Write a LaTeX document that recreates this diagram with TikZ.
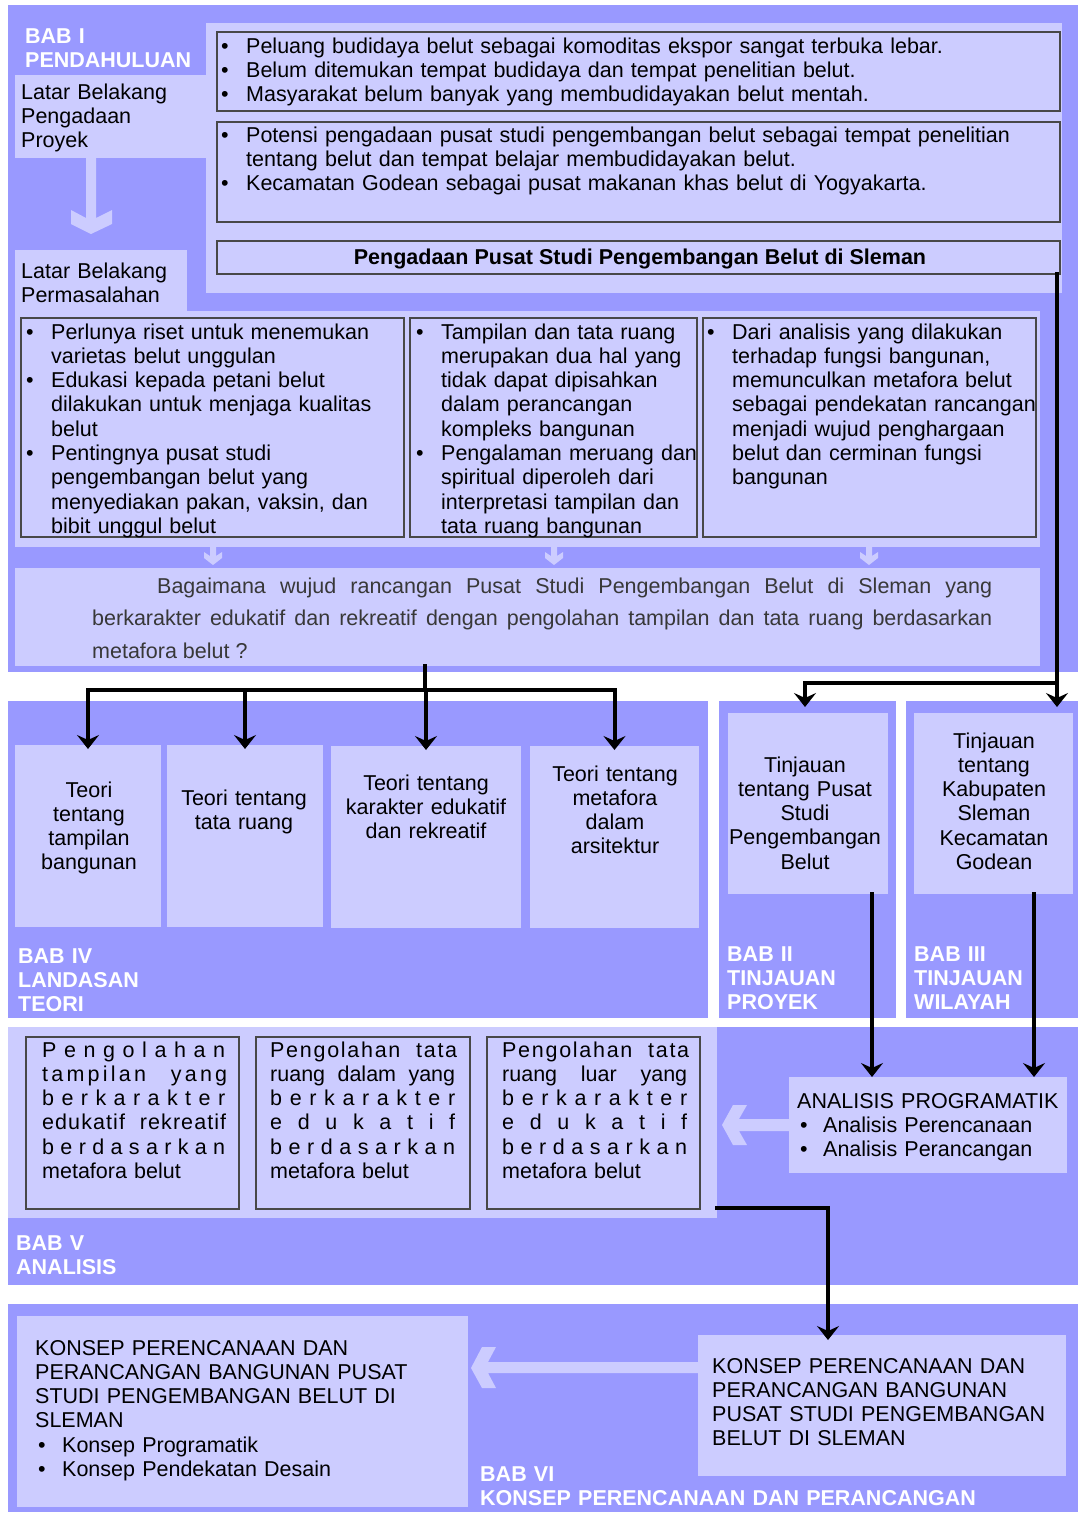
\documentclass[tikz,border=0pt]{standalone}
\usepackage{fontspec}
\setmainfont{Liberation Sans}
\usetikzlibrary{arrows.meta}
\definecolor{panel}{HTML}{9999FF}
\definecolor{pale}{HTML}{CCCCFF}
\definecolor{edge}{HTML}{484848}
\definecolor{qtext}{HTML}{383838}
\ExplSyntaxOn
\NewDocumentCommand\spreadw{mm}{\makebox[#1][s]{\tl_map_inline:nn{#2}{##1\hfil}\unskip}}
\ExplSyntaxOff
\newcommand\bul[1]{\noindent\hangindent=25pt\hangafter=1\makebox[25pt][l]{\textbullet}#1}
\newcommand\lsp[3]{\makebox[#1][l]{\addfontfeature{LetterSpace=#2}#3}}
\newcommand\rect[6]{\node[#2,anchor=north west,inner sep=0pt,outer sep=0pt,minimum width={(#5-#3)*1pt},minimum height={(#6-#4)*1pt}] (#1) at (#3,#4) {};}
\begin{document}
\begin{tikzpicture}[x=1pt,y=-1pt,
  panelbox/.style={fill=panel,draw=none},
  palebox/.style={fill=pale,draw=none},
  framebox/.style={fill=pale,draw=edge,line width=1.2pt},
  txt/.style={font=\fontsize{21.5}{24.3}\selectfont,inner sep=0pt,anchor=base west,align=left},
  ctxt/.style={txt,anchor=base,align=center},
  lbl/.style={txt,text=white,font=\fontsize{21.5}{24.3}\selectfont\bfseries,text width=520pt},
  conn/.style={line width=4pt,draw=black,line cap=rect,line join=miter},
  arr/.style={conn,-{Stealth[length=14pt,width=22pt,inset=5pt]}},
  blk/.style={fill=pale,draw=none}]
\useasboundingbox (0,0) rectangle (1080,1515);
\fill[white] (0,0) rectangle (1080,1515);

% ---------- BAB I panel ----------
\rect{pA}{panelbox}{8}{5}{1078}{672}
\rect{lbp}{palebox}{15}{75}{206}{158}
\rect{pr}{palebox}{206}{23}{1062}{293}
\rect{k1}{framebox}{217}{32}{1060}{111}
\rect{k2}{framebox}{217}{122}{1060}{222}
\rect{tt}{framebox}{217}{241}{1060}{274}
\rect{lbm}{palebox}{15}{250}{187}{312}
\rect{cr}{palebox}{15}{311}{1040}{547}
\rect{c1}{framebox}{21}{318}{404}{537}
\rect{c2}{framebox}{410}{318}{697}{537}
\rect{c3}{framebox}{703}{318}{1036}{537}
\rect{q}{palebox}{15}{568}{1040}{666}

% ---------- BAB IV ----------
\rect{pB}{panelbox}{8}{701}{708}{1018}
\rect{t1}{palebox}{15}{745}{161}{927}
\rect{t2}{palebox}{167}{745}{323}{927}
\rect{t3}{palebox}{331}{746}{521}{928}
\rect{t4}{palebox}{530}{746}{699}{928}
% ---------- BAB II / III ----------
\rect{pC}{panelbox}{719}{701}{896}{1018}
\rect{b2}{palebox}{728}{713}{888}{894}
\rect{pD}{panelbox}{906}{701}{1078}{1018}
\rect{b3}{palebox}{914}{713}{1073}{894}
% ---------- BAB V ----------
\rect{pE}{panelbox}{8}{1027}{1078}{1285}
\rect{ar}{palebox}{8}{1027}{717}{1218}
\rect{a1}{framebox}{26}{1037}{239}{1209}
\rect{a2}{framebox}{256}{1037}{470}{1209}
\rect{a3}{framebox}{487}{1037}{700}{1209}
\rect{an}{palebox}{789}{1077}{1067}{1173}
% ---------- BAB VI ----------
\rect{pF}{panelbox}{8}{1304}{1078}{1512}
\rect{kl}{palebox}{17}{1316}{468}{1507}
\rect{kr}{palebox}{698}{1335}{1066}{1476}

% ---------- light block arrows ----------
\fill[blk] (86,158) -- (86,218) -- (71,210) -- (71,224) -- (91,234) -- (112,224) -- (112,210) -- (96,218) -- (96,158) -- cycle;
\foreach \cx in {213,554,869}
  \fill[blk] (\cx-3,547) -- (\cx-3,556) -- (\cx-9,552) -- (\cx-9,558) -- (\cx,565) -- (\cx+9,558) -- (\cx+9,552) -- (\cx+3,556) -- (\cx+3,547) -- cycle;
\fill[blk] (789,1119) -- (739,1119) -- (747,1105) -- (733,1105) -- (722,1125) -- (733,1145) -- (747,1145) -- (739,1131) -- (789,1131) -- cycle;
\fill[blk] (698,1362) -- (488,1362) -- (496,1347) -- (482,1347) -- (471,1368) -- (482,1388) -- (496,1388) -- (488,1373) -- (698,1373) -- cycle;

% ---------- black connectors ----------
\coordinate (jR) at (1057,683);
\coordinate (jL) at (805,683);
\coordinate (eR) at (1057,707);
\coordinate (eL) at (805,707);
\draw[conn] (jR |- tt.south) -- (jR) -- (jL);
\draw[arr] (jL) -- (eL);
\draw[arr] (jR) -- (eR);

\coordinate (qd) at (425,690);
\draw[conn] (qd |- q.south) -- (qd);
\draw[conn] (t1.north |- qd) -- (t4.north |- qd);
\foreach \t in {t1,t2,t3,t4}
  \draw[arr] (\t.north |- qd) -- ([yshift=-4pt]\t.north);

\coordinate (s2) at (872,894);
\coordinate (s3) at (1034,894);
\draw[arr] (s2) -- (s2 |- an.north);
\draw[arr] (s3) -- (s3 |- an.north);

\coordinate (v1) at (828,1208);
\coordinate (v2) at (828,1340);
\draw[arr] (ar.east |- v1) -- (v1) -- (v2);

% ---------- texts ----------
\node[lbl] (l1) at (25,43) {BAB I\\PENDAHULUAN};
\node[txt,text width=185pt] (lbpt) at (21,99) {Latar Belakang\\Pengadaan\\Proyek};
\node[txt,text width=840pt] (k1t) at (221,53) {\bul{Peluang budidaya belut sebagai komoditas ekspor sangat terbuka lebar.}\par\bul{Belum ditemukan tempat budidaya dan tempat penelitian belut.}\par\bul{Masyarakat belum banyak yang membudidayakan belut mentah.}\par};
\node[txt,text width=840pt] (k2t) at (221,142) {\bul{Potensi pengadaan pusat studi pengembangan belut sebagai tempat penelitian\newline tentang belut dan tempat belajar membudidayakan belut.}\par\bul{Kecamatan Godean sebagai pusat makanan khas belut di Yogyakarta.}\par};
\node[ctxt,font=\fontsize{21.5}{24.3}\selectfont\bfseries] (ttt) at (640,264) {Pengadaan Pusat Studi Pengembangan Belut di Sleman};
\node[txt,text width=170pt] (lbmt) at (21,278) {Latar Belakang\\Permasalahan};

\node[txt,text width=380pt] (c1t) at (26,339) {\bul{Perlunya riset untuk menemukan\newline varietas belut unggulan}\par\bul{Edukasi kepada petani belut\newline dilakukan untuk menjaga kualitas\newline belut}\par\bul{Pentingnya pusat studi\newline pengembangan belut yang\newline menyediakan pakan, vaksin, dan\newline bibit unggul belut}\par};
\node[txt,text width=300pt] (c2t) at (416,339) {\bul{Tampilan dan tata ruang\newline merupakan dua hal yang\newline tidak dapat dipisahkan\newline dalam perancangan\newline kompleks bangunan}\par\bul{Pengalaman meruang dan\newline spiritual diperoleh dari\newline interpretasi tampilan dan\newline tata ruang bangunan}\par};
\node[txt,text width=340pt] (c3t) at (707,339) {\bul{Dari analisis yang dilakukan\newline terhadap fungsi bangunan,\newline memunculkan metafora belut\newline sebagai pendekatan rancangan\newline menjadi wujud penghargaan\newline belut dan cerminan fungsi\newline bangunan}\par};

\node[txt,text width=900pt,align=justify,text=qtext,font=\fontsize{21.5}{32.5}\selectfont] (qt) at (92,593) {\hspace*{65pt}Bagaimana wujud rancangan Pusat Studi Pengembangan Belut di Sleman yang\linebreak berkarakter edukatif dan rekreatif dengan pengolahan tampilan dan tata ruang berdasarkan\linebreak metafora belut ?};

\node[ctxt,text width=145pt] (t1t) at (89,797) {Teori\\tentang\\tampilan\\bangunan};
\node[ctxt,text width=155pt] (t2t) at (244,805) {Teori tentang\\tata ruang};
\node[ctxt,text width=190pt] (t3t) at (426,790) {Teori tentang\\karakter edukatif\\dan rekreatif};
\node[ctxt,text width=170pt] (t4t) at (615,781) {Teori tentang\\metafora\\dalam\\arsitektur};
\node[lbl] (l4) at (18,963) {BAB IV\\LANDASAN\\TEORI};

\node[ctxt,text width=165pt] (b2t) at (805,772) {Tinjauan\\tentang Pusat\\Studi\\Pengembangan\\Belut};
\node[ctxt,text width=160pt] (b3t) at (994,748) {Tinjauan\\tentang\\Kabupaten\\Sleman\\Kecamatan\\Godean};
\node[lbl] (l2) at (727,961) {BAB II\\TINJAUAN\\PROYEK};
\node[lbl] (l3) at (914,961) {BAB III\\TINJAUAN\\WILAYAH};

\node[txt,text width=200pt] (a1t) at (42,1057) {\spreadw{183pt}{Pengolahan}\\\lsp{185pt}{15}{tampilan\hfill yang}\\\spreadw{183pt}{berkarakter}\\\lsp{184pt}{5}{edukatif\hfill rekreatif}\\\spreadw{183pt}{berdasarkan}\\metafora belut};
\node[txt,text width=200pt] (a2t) at (270,1057) {\lsp{187pt}{8}{Pengolahan\hfill tata}\\\makebox[185pt][l]{ruang\hfill dalam\hfill yang}\\\spreadw{185pt}{berkarakter}\\\spreadw{185pt}{edukatif}\\\spreadw{185pt}{berdasarkan}\\metafora belut};
\node[txt,text width=200pt] (a3t) at (502,1057) {\lsp{187pt}{8}{Pengolahan\hfill tata}\\\makebox[185pt][l]{ruang\hfill luar\hfill yang}\\\spreadw{185pt}{berkarakter}\\\spreadw{185pt}{edukatif}\\\spreadw{185pt}{berdasarkan}\\metafora belut};
\node[txt,text width=280pt] (ant) at (797,1108) {ANALISIS PROGRAMATIK\par\hspace*{3pt}\makebox[23pt][l]{\textbullet}Analisis Perencanaan\par\hspace*{3pt}\makebox[23pt][l]{\textbullet}Analisis Perancangan};
\node[lbl] (l5) at (16,1250) {BAB V\\ANALISIS};

\node[txt,text width=440pt] (klt) at (35,1355) {KONSEP PERENCANAAN DAN\\PERANCANGAN BANGUNAN PUSAT\\STUDI PENGEMBANGAN BELUT DI\\SLEMAN\par\hspace*{3pt}\makebox[24pt][l]{\textbullet}Konsep Programatik\par\hspace*{3pt}\makebox[24pt][l]{\textbullet}Konsep Pendekatan Desain};
\node[txt,text width=360pt] (krt) at (712,1373) {KONSEP PERENCANAAN DAN\\PERANCANGAN BANGUNAN\\PUSAT STUDI PENGEMBANGAN\\BELUT DI SLEMAN};
\node[lbl] (l6) at (480,1481) {BAB VI\\KONSEP PERENCANAAN DAN PERANCANGAN};
\end{tikzpicture}
\end{document}
